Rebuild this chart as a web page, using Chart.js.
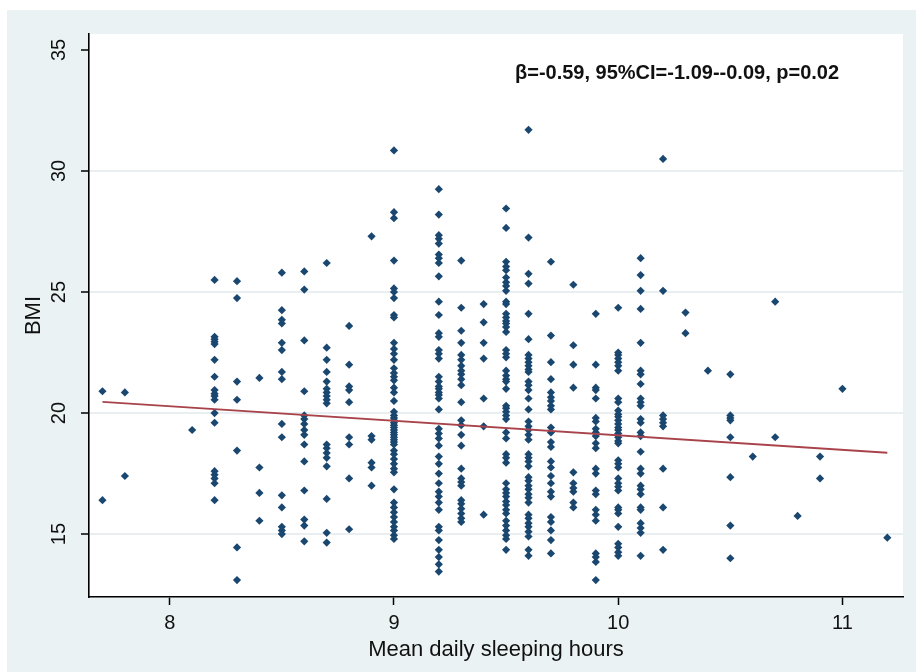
<!DOCTYPE html>
<html>
<head>
<meta charset="utf-8">
<script src="https://cdn.jsdelivr.net/npm/chart.js@4.4.1/dist/chart.umd.min.js"></script>
<style>
  html, body { margin: 0; padding: 0; background: #fff; }
  canvas { display: block; }
</style>
</head>
<body>
<canvas id="bmiChart" width="916" height="672"></canvas>
<script>
// sleep columns (hours) and BMI values
const sleepHours = [7.7, 7.8, 8.1, 8.2, 8.3, 8.4, 8.5, 8.6, 8.7, 8.8, 8.9, 9.0, 9.2, 9.3, 9.4, 9.5, 9.6, 9.7, 9.8, 9.9, 10.0, 10.1, 10.2, 10.3, 10.4, 10.5, 10.6, 10.7, 10.8, 10.9, 11.0, 11.2];
const bmiByHours = [
  [20.9, 16.4],
  [20.85, 17.4],
  [19.3],
  [25.5, 23.15, 23.05, 22.95, 22.85, 22.2, 21.5, 20.95, 20.8, 20.7, 20.55, 20.0, 19.6, 17.6, 17.45, 17.3, 17.1, 16.4],
  [25.45, 24.75, 21.3, 20.55, 18.45, 14.45, 13.1],
  [21.45, 17.75, 16.7, 15.55],
  [25.8, 24.25, 23.85, 23.7, 22.9, 22.6, 21.7, 21.4, 19.55, 19.0, 16.6, 16.1, 15.3, 15.15, 15.0],
  [25.85, 25.1, 23.0, 20.9, 19.9, 19.75, 19.55, 19.3, 19.1, 18.7, 18.0, 16.8, 15.6, 15.35, 14.7],
  [26.2, 22.7, 22.2, 21.7, 21.3, 21.0, 20.85, 20.7, 20.55, 20.4, 18.7, 18.55, 18.35, 18.15, 17.8, 16.45, 15.05, 14.65],
  [23.6, 22.0, 21.1, 20.95, 20.45, 19.0, 18.7, 17.3, 15.2],
  [27.3, 19.05, 18.9, 17.95, 17.75, 17.0],
  [30.85, 28.3, 28.05, 26.3, 25.15, 25.0, 24.75, 24.05, 23.95, 22.9, 22.65, 22.45, 22.2, 21.85, 21.65, 21.5, 21.35, 21.05, 20.85, 20.5, 20.05, 19.9, 19.8, 19.7, 19.6, 19.5, 19.4, 19.3, 19.2, 19.1, 19.0, 18.9, 18.8, 18.7, 18.45, 18.3, 18.1, 17.9, 17.7, 17.55, 16.85, 16.3, 16.1, 15.9, 15.7, 15.5, 15.3, 15.15, 14.95, 14.8],
  [29.25, 28.2, 27.35, 27.2, 27.0, 26.55, 26.4, 26.2, 25.65, 24.6, 24.05, 23.3, 23.15, 22.6, 22.45, 22.25, 21.5, 21.3, 21.1, 21.0, 20.85, 20.75, 20.6, 20.15, 19.35, 19.15, 18.95, 18.65, 18.2, 17.9, 17.5, 17.1, 16.75, 16.55, 16.3, 16.0, 15.3, 15.15, 14.75, 14.35, 14.05, 13.75, 13.45],
  [26.3, 24.35, 23.4, 22.9, 22.4, 22.2, 21.95, 21.75, 21.6, 21.4, 21.15, 20.45, 19.7, 19.5, 19.1, 18.65, 17.7, 17.3, 17.15, 17.0, 16.4, 16.25, 16.05, 15.85, 15.65, 15.5],
  [24.5, 23.75, 22.9, 22.25, 20.6, 19.45, 15.8],
  [28.45, 27.65, 26.25, 26.05, 25.9, 25.6, 25.4, 25.25, 25.05, 24.6, 24.5, 24.1, 23.95, 23.8, 23.7, 23.55, 23.35, 22.6, 22.45, 22.3, 21.75, 21.55, 21.4, 21.3, 21.0, 20.3, 20.2, 20.05, 19.9, 19.75, 19.2, 18.95, 18.3, 18.15, 17.95, 17.1, 16.85, 16.7, 16.55, 16.35, 16.2, 16.0, 15.85, 15.55, 15.35, 15.15, 14.95, 14.8, 14.35],
  [31.7, 27.25, 25.75, 25.35, 24.1, 23.05, 22.4, 22.25, 22.1, 21.95, 21.8, 21.7, 21.3, 21.15, 20.95, 20.6, 20.15, 19.65, 19.45, 19.3, 19.1, 18.9, 18.3, 18.15, 18.0, 17.8, 17.35, 17.2, 17.0, 16.85, 16.65, 16.5, 16.3, 15.8, 15.65, 15.45, 15.3, 15.1, 14.9, 14.35, 14.1],
  [26.25, 23.2, 22.1, 21.4, 20.85, 20.65, 20.5, 20.3, 20.15, 19.4, 19.2, 18.8, 18.6, 18.0, 17.75, 17.4, 17.1, 16.75, 16.55, 15.7, 15.5, 15.15, 14.75, 14.2],
  [25.3, 22.8, 22.0, 21.05, 17.55, 17.1, 16.9, 16.75, 16.3, 16.1],
  [24.1, 22.0, 21.05, 20.95, 20.6, 19.8, 19.65, 19.35, 19.2, 19.05, 18.75, 18.55, 17.7, 17.5, 16.8, 16.65, 16.0, 15.8, 15.55, 14.2, 14.05, 13.85, 13.1],
  [24.35, 22.5, 22.4, 22.25, 22.1, 21.95, 21.75, 20.6, 20.45, 20.1, 19.95, 19.85, 19.7, 19.55, 19.4, 19.3, 19.15, 19.0, 18.85, 18.75, 18.05, 17.9, 17.75, 17.3, 17.1, 16.95, 16.8, 16.1, 16.0, 15.85, 15.3, 14.6, 14.45, 14.25, 14.1],
  [26.4, 25.7, 25.05, 24.3, 22.9, 21.75, 21.6, 21.2, 20.6, 20.45, 20.3, 19.75, 19.6, 19.2, 19.05, 18.4, 17.7, 17.5, 17.0, 16.85, 16.65, 16.1, 16.0, 15.45, 15.25, 15.05, 14.1],
  [30.5, 25.05, 19.9, 19.75, 19.6, 19.45, 17.7, 16.1, 14.35],
  [24.15, 23.3],
  [21.75],
  [21.6, 19.9, 19.8, 19.7, 19.0, 17.35, 15.35, 14.0],
  [18.2],
  [24.6, 19.0],
  [15.75],
  [18.2, 17.3],
  [21.0],
  [14.85]
];

// fitted line end points
const fitHours = [7.7, 11.2];
const fitBmi = [20.46, 18.36];

const xTicks = [8, 9, 10, 11];
const yTicks = [15, 20, 25, 30, 35];
const yGridTicks = [15, 20, 25, 30];

const noteText = "β=-0.59, 95%CI=-1.09--0.09, p=0.02";

const FONT = "'Liberation Sans', Arial, sans-serif";
const NAVY = "#1a476f";
const MAROON = "#a8434b";
const BG = "#eaf2f3";

(function () {
  const points = [];
  sleepHours.forEach((h, i) => {
    bmiByHours[i].forEach((b) => points.push({ x: h, y: b }));
  });
  const fitLine = fitHours.map((h, i) => ({ x: h, y: fitBmi[i] }));

  const backdrop = {
    id: "backdrop",
    beforeDraw(chart) {
      const { ctx, chartArea: a } = chart;
      ctx.save();
      ctx.fillStyle = "#fff";
      ctx.fillRect(0, 0, chart.width, chart.height);
      ctx.fillStyle = BG;
      ctx.fillRect(7, 10, chart.width - 7, chart.height - 10);
      ctx.fillStyle = "#fff";
      ctx.fillRect(a.left, a.top, a.right - a.left, a.bottom - a.top);
      ctx.restore();
    },
  };

  const note = {
    id: "note",
    afterDraw(chart) {
      const { ctx, chartArea: a } = chart;
      ctx.save();
      ctx.font = "bold 20px " + FONT;
      ctx.fillStyle = "#111";
      ctx.textAlign = "left";
      ctx.textBaseline = "middle";
      ctx.fillText(noteText, a.left + 426, a.top + 39);
      ctx.restore();
    },
  };

  new Chart(document.getElementById("bmiChart"), {
    data: {
      datasets: [
        {
          type: "scatter",
          data: points,
          backgroundColor: NAVY,
          borderColor: NAVY,
          pointStyle: "rectRot",
          pointRadius: 4.1,
          pointBorderWidth: 0,
          order: 2,
        },
        {
          type: "line",
          data: fitLine,
          borderColor: MAROON,
          borderWidth: 1.8,
          pointRadius: 0,
          fill: false,
          order: 1,
        },
      ],
    },
    options: {
      responsive: false,
      animation: false,
      devicePixelRatio: 1,
      layout: { padding: { left: 7, top: 34, right: 13, bottom: 0 } },
      plugins: {
        legend: { display: false },
        tooltip: { enabled: false },
      },
      scales: {
        x: {
          type: "linear",
          min: 7.64,
          max: 11.27,
          afterBuildTicks: (s) => { s.ticks = xTicks.map((v) => ({ value: v })); },
          afterFit: (s) => { s.height = 75; },
          border: { display: true, color: "#000", width: 1.6 },
          grid: { color: "rgba(0,0,0,0)", tickColor: "#000", tickLength: 8, tickWidth: 1.5 },
          ticks: { color: "#111", font: { family: FONT, size: 20 }, padding: 6, maxRotation: 0 },
          title: {
            display: true,
            text: "Mean daily sleeping hours",
            color: "#111",
            font: { family: FONT, size: 22 },
            padding: { top: 0, bottom: 9 },
          },
        },
        y: {
          type: "linear",
          min: 12.4,
          max: 35.66,
          afterBuildTicks: (s) => { s.ticks = yTicks.map((v) => ({ value: v })); },
          afterFit: (s) => { s.width = 82; },
          border: { display: true, color: "#000", width: 1.6 },
          grid: {
            color: (c) => (c.tick && yGridTicks.includes(c.tick.value) ? "#e9eff1" : "rgba(0,0,0,0)"),
            lineWidth: 2,
            tickColor: "#000",
            tickLength: 8,
            tickWidth: 1.5,
          },
          ticks: {
            color: "#111",
            font: { family: FONT, size: 20 },
            minRotation: 90,
            maxRotation: 90,
            crossAlign: "center",
            padding: 10,
          },
          title: {
            display: true,
            text: "BMI",
            color: "#111",
            font: { family: FONT, size: 22 },
            padding: { top: 14, bottom: 0 },
          },
        },
      },
    },
    plugins: [backdrop, note],
  });
})();
</script>
</body>
</html>
